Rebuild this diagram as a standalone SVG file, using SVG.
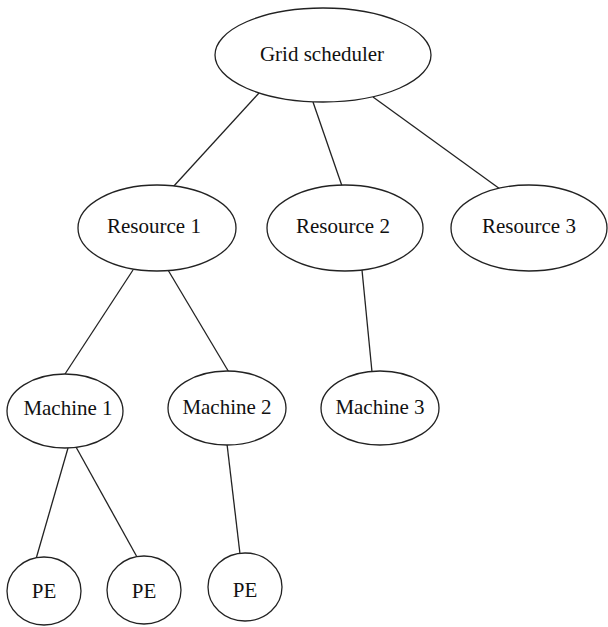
<svg xmlns="http://www.w3.org/2000/svg" width="608" height="627" viewBox="0 0 608 627">
<style>
ellipse{fill:#fff;stroke:#222;stroke-width:1.3}
line{stroke:#222;stroke-width:1.3}
text{font-family:"Liberation Serif","Times New Roman",serif;font-size:21px;fill:#111;text-anchor:middle}
</style>
<rect width="608" height="627" fill="#fff"/>
<g id="connectors">
<line x1="259" y1="93" x2="173" y2="187"/>
<line x1="313" y1="102" x2="342" y2="186"/>
<line x1="373" y1="97" x2="500" y2="189"/>
<line x1="133" y1="270" x2="65" y2="374"/>
<line x1="168" y1="270" x2="230" y2="374"/>
<line x1="362" y1="270" x2="372" y2="372"/>
<line x1="68" y1="448" x2="36" y2="559"/>
<line x1="76" y1="447" x2="137" y2="557"/>
<line x1="227" y1="444" x2="240" y2="554"/>
</g>
<g id="grid"><ellipse cx="323" cy="55" rx="108" ry="47"/><text x="322" y="61">Grid scheduler</text></g>
<g id="r1"><ellipse cx="157" cy="228" rx="79" ry="43"/><text x="154" y="233">Resource 1</text></g>
<g id="r2"><ellipse cx="345" cy="228" rx="78" ry="43"/><text x="343" y="233">Resource 2</text></g>
<g id="r3"><ellipse cx="529" cy="228" rx="78" ry="43"/><text x="529" y="233">Resource 3</text></g>
<g id="m1"><ellipse cx="65" cy="411" rx="58" ry="37"/><text x="68" y="415">Machine 1</text></g>
<g id="m2"><ellipse cx="227" cy="408" rx="59" ry="37"/><text x="227" y="414">Machine 2</text></g>
<g id="m3"><ellipse cx="380" cy="408" rx="59" ry="37"/><text x="380" y="414">Machine 3</text></g>
<g id="pe1"><ellipse cx="44" cy="591" rx="37" ry="34"/><text x="44" y="598">PE</text></g>
<g id="pe2"><ellipse cx="144" cy="590" rx="37" ry="34"/><text x="144" y="598">PE</text></g>
<g id="pe3"><ellipse cx="245" cy="587" rx="37" ry="34"/><text x="245" y="597">PE</text></g>
</svg>
